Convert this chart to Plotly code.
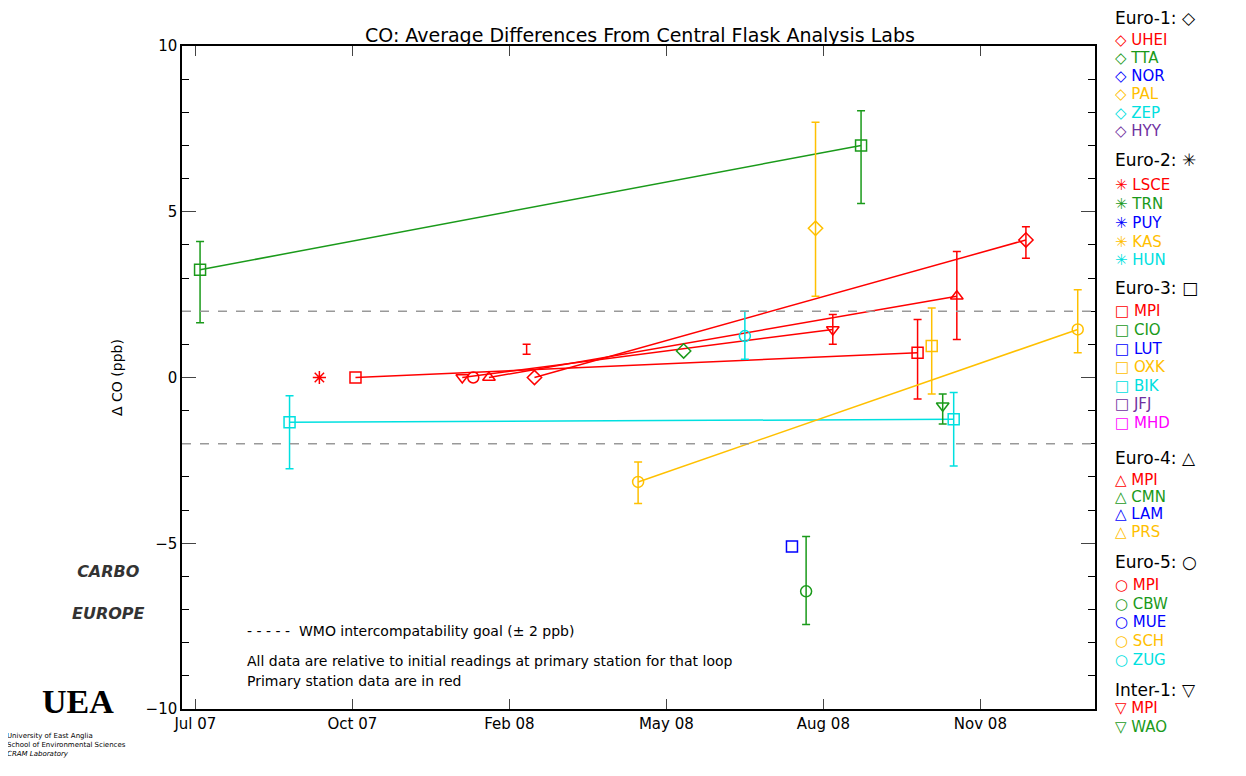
import plotly.graph_objects as go

RED, GRN, BLU, YEL, CYN, PUR, MAG = "#ff0000", "#1a9a1a", "#0000ff", "#ffc000", "#00e0e0", "#7030a0", "#ff00ff"

tick_vals = [0, 1, 2, 3, 4, 5]
tick_text = ["Jul 07", "Oct 07", "Feb 08", "May 08", "Aug 08", "Nov 08"]

# series: name, color, symbol, x, y, err_lo, err_hi, line
series = [
    ("CIO", GRN, "square-open", [0.03, 4.24], [3.25, 7.0], [1.65, 5.25], [4.1, 8.05], True),
    ("BIK", CYN, "square-open", [0.60, 4.83], [-1.35, -1.26], [-2.75, -2.67], [-0.55, -0.45], True),
    ("LSCE", RED, "asterisk-open", [0.79], [0.0], [None], [None], False),
    ("MPI3", RED, "square-open", [1.02, 4.60], [0.0, 0.75], [None, -0.65], [None, 1.75], True),
    ("MPI_I", RED, "triangle-down-open", [1.70, 4.06], [0.0, 1.45], [None, 1.0], [None, 1.9], True),
    ("MPI5", RED, "circle-open", [1.77], [0.0], [None], [None], False),
    ("MPI4", RED, "triangle-up-open", [1.87, 4.85], [0.0, 2.45], [None, 1.15], [None, 3.8], True),
    ("UHEI", RED, "diamond-open", [2.16, 5.29], [0.0, 4.15], [None, 3.6], [None, 4.55], True),
    ("TTA", GRN, "diamond-open", [3.11], [0.8], [None], [None], False),
    ("SCH", YEL, "circle-open", [2.82, 5.62], [-3.15, 1.45], [-3.8, 0.75], [-2.55, 2.65], True),
    ("ZUG", CYN, "circle-open", [3.50], [1.25], [0.55], [2.0], False),
    ("PAL", YEL, "diamond-open", [3.95], [4.5], [2.45], [7.7], False),
    ("OXK", YEL, "square-open", [4.69], [0.95], [-0.5], [2.1], False),
    ("WAO", GRN, "triangle-down-open", [4.76], [-0.85], [-1.4], [-0.5], False),
    ("LAM", BLU, "square-open", [3.80], [-5.1], [None], [None], False),
    ("CBW", GRN, "circle-open", [3.89], [-6.45], [-7.45], [-4.8], False),
]
lone_x, lone_y, lone_lo, lone_hi = [2.11], [0.85], [0.7], [1.0]

fig = go.Figure()
fig.add_hline(y=2, line=dict(color="#999", dash="dash", width=1.5))
fig.add_hline(y=-2, line=dict(color="#999", dash="dash", width=1.5))

for name, c, sym, x, y, lo, hi, line in series:
    if line:
        fig.add_trace(go.Scatter(x=x, y=y, mode="lines", line=dict(color=c, width=1.5), showlegend=False, hoverinfo="skip"))
    xe = [xi for xi, l in zip(x, lo) if l is not None]
    if xe:
        yl = [l for l in lo if l is not None]
        yh = [h for h in hi if h is not None]
        ym = [(a + b) / 2 for a, b in zip(yl, yh)]
        fig.add_trace(go.Scatter(x=xe, y=ym, mode="markers", marker=dict(size=0.1, color=c),
                                 error_y=dict(type="data", symmetric=False,
                                              array=[h - m for h, m in zip(yh, ym)],
                                              arrayminus=[m - l for m, l in zip(ym, yl)],
                                              color=c, thickness=1.5, width=4),
                                 showlegend=False, hoverinfo="skip"))
    fig.add_trace(go.Scatter(x=x, y=y, mode="markers", name=name,
                             marker=dict(symbol=sym, size=11, color=c, line=dict(width=1.5, color=c)),
                             showlegend=False))

ym = [(a + b) / 2 for a, b in zip(lone_lo, lone_hi)]
fig.add_trace(go.Scatter(x=lone_x, y=ym, mode="markers", marker=dict(size=0.1, color=RED),
                         error_y=dict(type="data", symmetric=False,
                                      array=[h - m for h, m in zip(lone_hi, ym)],
                                      arrayminus=[m - l for m, l in zip(ym, lone_lo)],
                                      color=RED, thickness=1.5, width=4), showlegend=False))

OFF = 8
L, R, T, B = 182 - OFF, 1095 - OFF, 46 - OFF, 709 - OFF
def px(x): return (x - OFF - L) / (R - L)
def py(y): return (B - (y - OFF)) / (B - T)

ann = []
legend = [
    ("Euro-1: ◇", "black", 18), ("◇ UHEI", RED, 40), ("◇ TTA", GRN, 58), ("◇ NOR", BLU, 76),
    ("◇ PAL", YEL, 94), ("◇ ZEP", CYN, 113), ("◇ HYY", PUR, 131),
    ("Euro-2: ✳", "black", 160), ("✳ LSCE", RED, 185), ("✳ TRN", GRN, 204), ("✳ PUY", BLU, 223),
    ("✳ KAS", YEL, 242), ("✳ HUN", CYN, 260),
    ("Euro-3: □", "black", 288), ("□ MPI", RED, 311), ("□ CIO", GRN, 330), ("□ LUT", BLU, 349),
    ("□ OXK", YEL, 367), ("□ BIK", CYN, 386), ("□ JFJ", PUR, 404), ("□ MHD", MAG, 423),
    ("Euro-4: △", "black", 458), ("△ MPI", RED, 480), ("△ CMN", GRN, 497), ("△ LAM", BLU, 514),
    ("△ PRS", YEL, 532),
    ("Euro-5: ○", "black", 562), ("○ MPI", RED, 585), ("○ CBW", GRN, 604), ("○ MUE", BLU, 622),
    ("○ SCH", YEL, 641), ("○ ZUG", CYN, 660),
    ("Inter-1: ▽", "black", 690), ("▽ MPI", RED, 708), ("▽ WAO", GRN, 727),
]
for t, c, yy in legend:
    ann.append(dict(text=t, x=px(1113), y=py(yy), xref="paper", yref="paper", xanchor="left", yanchor="middle",
                    showarrow=False, font=dict(size=17 if c == "black" else 15, color=c)))

ann += [
    dict(text="CO: Average Differences From Central Flask Analysis Labs", x=px(640), y=py(22), xref="paper", yref="paper",
         showarrow=False, font=dict(size=19, color="black")),
    dict(text="- - - - -  WMO intercompatability goal (± 2 ppb)", x=px(245), y=py(641), xref="paper", yref="paper",
         xanchor="left", showarrow=False, font=dict(size=14, color="black")),
    dict(text="All data are relative to initial readings at primary station for that loop", x=px(245), y=py(671),
         xref="paper", yref="paper", xanchor="left", showarrow=False, font=dict(size=14, color="black")),
    dict(text="Primary station data are in red", x=px(245), y=py(691), xref="paper", yref="paper",
         xanchor="left", showarrow=False, font=dict(size=14, color="black")),
    dict(text="<b><i>CARBO<br><br>EUROPE</i></b>", x=px(70), y=py(625), xref="paper", yref="paper",
         showarrow=False, font=dict(size=16, color="#333")),
    dict(text="<b>UEA</b>", x=px(40), y=py(722), xref="paper", yref="paper", xanchor="left",
         showarrow=False, font=dict(size=34, color="black", family="Liberation Serif")),
    dict(text="University of East Anglia<br>School of Environmental Sciences<br><i>CRAM Laboratory</i>",
         x=px(5), y=py(760), xref="paper", yref="paper", xanchor="left", align="left",
         showarrow=False, font=dict(size=7, color="black")),
]

fig.update_layout(
    width=1246, height=776, margin=dict(l=L, r=1246 - R, t=T, b=776 - B, autoexpand=False),
    plot_bgcolor="white", paper_bgcolor="white", annotations=ann,
    font=dict(family="DejaVu Sans", color="black"),
    xaxis=dict(range=[-0.085, 5.73], tickvals=tick_vals, ticktext=tick_text, showgrid=False, zeroline=False,
               automargin=False,
               showline=True, linecolor="black", linewidth=1.5, mirror="ticks", ticks="inside", ticklen=10,
               tickfont=dict(size=15)),
    yaxis=dict(range=[-10, 10], tickvals=[-10, -5, 0, 5, 10], showgrid=False, zeroline=False,
               automargin=False,
               showline=True, linecolor="black", linewidth=1.5, mirror="ticks", ticks="inside", ticklen=14,
               tickfont=dict(size=15), title=dict(text="Δ CO (ppb)", font=dict(size=14), standoff=20),
               minor=dict(tickvals=[-9, -8, -7, -6, -4, -3, -2, -1, 1, 2, 3, 4, 6, 7, 8, 9],
                          ticks="inside", ticklen=7, tickcolor="black")),
)
fig.write_html("out.html")
